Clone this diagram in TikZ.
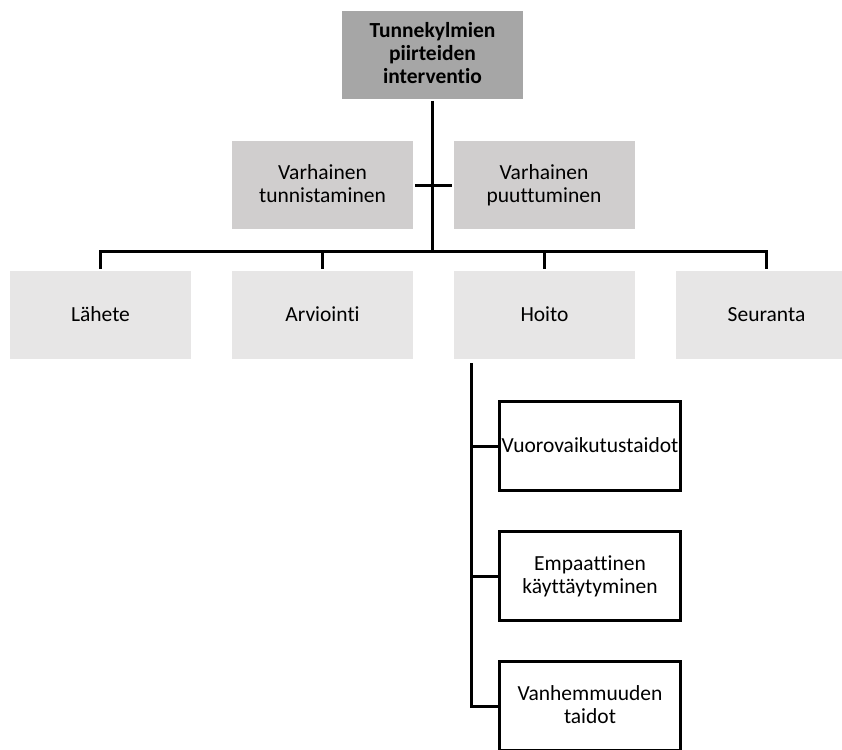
\documentclass[tikz,border=0pt]{standalone}
\usepackage{fontspec}
\setmainfont{Carlito}[Ligatures={NoCommon}]
\usepackage{xcolor}
\usepackage{tikz}
\usetikzlibrary{positioning}

\definecolor{topgray}{HTML}{A6A6A6}
\definecolor{midgray}{HTML}{D0CECE}
\definecolor{palegray}{HTML}{E7E6E6}

\tikzset{
    box/.style={minimum width=181pt, minimum height=88pt, inner sep=0pt, outer sep=2pt, align=center,
        font=\fontsize{21.5}{23}\selectfont,
        execute at begin node={\vphantom{Äg}}, execute at end node={\vphantom{Äg}}},
    topbox/.style={box, fill=topgray, font=\fontsize{21.5}{23}\selectfont\bfseries},
    earlybox/.style={box, fill=midgray},
    phasebox/.style={box, fill=palegray},
    skillbox/.style={box, draw, line width=3pt, outer sep=0pt, minimum width=181pt, minimum height=89pt},
    link/.style={line width=3pt},
}

\begin{document}
\begin{tikzpicture}[x=1pt, y=-1pt]
    \useasboundingbox (0,0) rectangle (842,749);
    % top
    \node[topbox] (top) at (432.5,55) {Tunnekylmien\\piirteiden\\interventio};
    % early
    \node[earlybox] (tunnist) at (322.5,185) {Varhainen\\tunnistaminen};
    \node[earlybox] (puutt) at (544,185) {Varhainen\\puuttuminen};
    % phases
    \node[phasebox] (lahete) at (100.5,315) {Lähete};
    \node[phasebox, right=37pt of lahete] (arviointi) {Arviointi};
    \node[phasebox, right=37pt of arviointi] (hoito) {Hoito};
    \node[phasebox, right=37pt of hoito] (seuranta) {Seuranta};
    % hoito parts
    \node[skillbox] (vuoro) at (590,446) {Vuorovaikutustaidot};
    \node[skillbox, below=41pt of vuoro] (empa) {Empaattinen\\käyttäytyminen};
    \node[skillbox, below=41pt of empa] (vanh) {Vanhemmuuden\\taidot};

    \coordinate (bar) at (432.5,251);
    \coordinate (spine) at (471,363);

    \draw[link] (top.south) -- (bar);
    \draw[link] (tunnist.east) -- (puutt.west);
    \draw[link] (lahete.north) |- (bar) -| (seuranta.north);
    \draw[link] (bar -| arviointi.north) -- (arviointi.north);
    \draw[link] (bar -| hoito.north) -- (hoito.north);
    \draw[link] (spine) |- (vuoro.west);
    \draw[link] (spine) |- (empa.west);
    \draw[link] (spine) |- (vanh.west);
\end{tikzpicture}
\end{document}
